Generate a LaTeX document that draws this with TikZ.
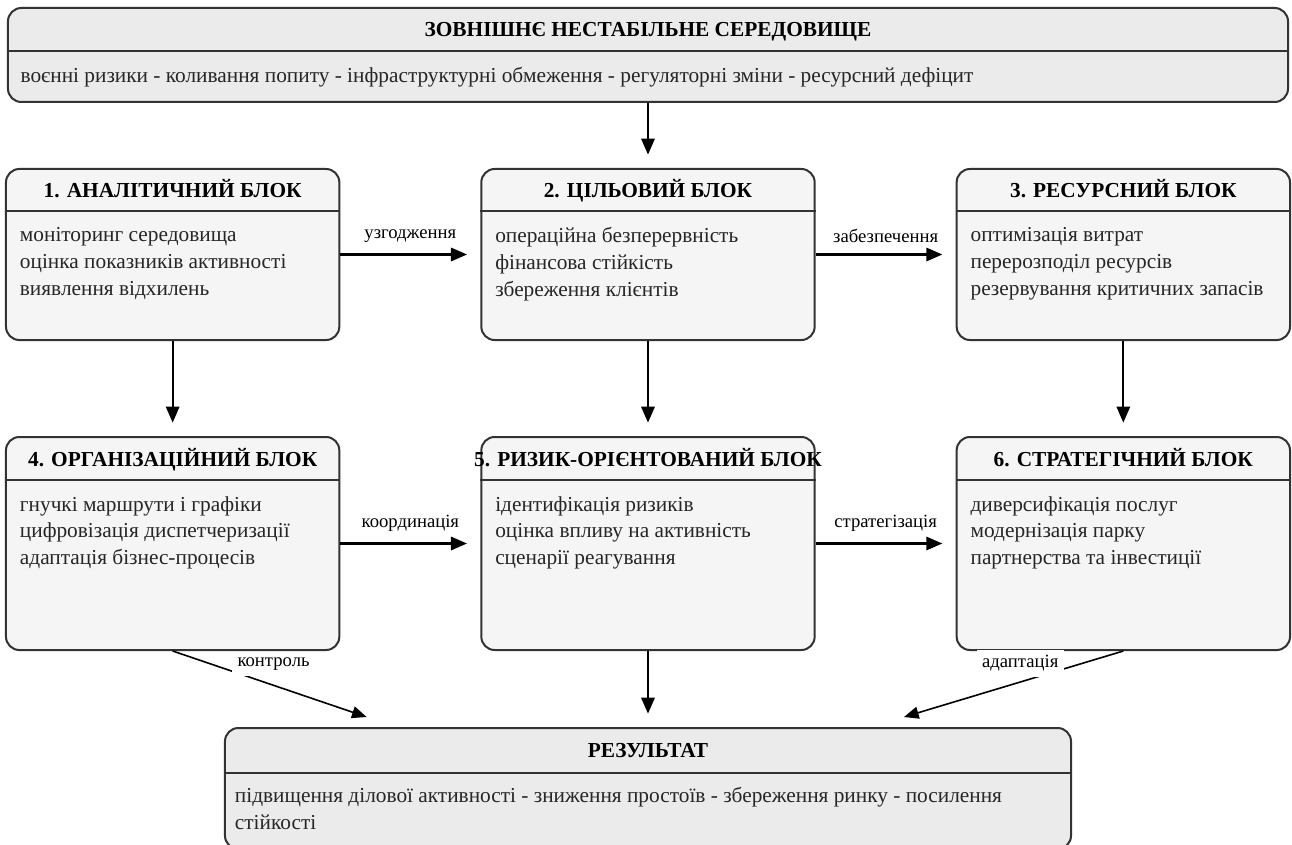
\documentclass[tikz,border=0pt]{standalone}
\usepackage{fontspec}
\setmainfont{Liberation Serif}
\usetikzlibrary{arrows.meta,positioning}
\definecolor{blockfill}{RGB}{245,245,245}
\definecolor{mainfill}{RGB}{235,235,235}
\definecolor{border}{RGB}{51,51,51}
\tikzstyle{block} = [rectangle, rounded corners=10pt, draw=border, line width=1.5pt, fill=blockfill, minimum width=250pt, minimum height=128.25pt, inner sep=0pt]
\tikzstyle{block2} = [block, minimum height=159.75pt]
\tikzstyle{wide} = [block, fill=mainfill, minimum width=960pt, minimum height=70.5pt]
\tikzstyle{btitle} = [font=\fontsize{16}{20}\selectfont\bfseries, anchor=base, inner sep=0pt]
\tikzstyle{txt} = [font=\fontsize{16}{20}\selectfont, text=black!85, align=left, anchor=north west, inner sep=0pt]
\tikzstyle{divider} = [draw=border, line width=1.5pt]
\tikzstyle{tedge} = [draw, line width=1.6pt, -{Triangle[length=12pt,width=10pt]}, shorten >=10pt]
\tikzstyle{dedge} = [draw, line width=1.2pt, -{Triangle[length=11pt,width=9pt]}]
\tikzstyle{lbl} = [font=\fontsize{14}{16}\selectfont, inner sep=2pt]

\begin{document}
\begin{tikzpicture}[auto]
\useasboundingbox (-486pt,-592.5pt) rectangle (483pt,41.25pt);

% environment ============================
\node[wide] (env) at (0,0) {};
\node[btitle] (env-t) at ([yshift=-22pt]env.north) {ЗОВНІШНЄ НЕСТАБІЛЬНЕ СЕРЕДОВИЩЕ};
\path[divider] ([yshift=-33pt]env.north west) -- ([yshift=-33pt]env.north east);
\node[txt] (env-b) at ([xshift=10pt, yshift=-45pt]env.north west) {воєнні ризики - коливання попиту - інфраструктурні обмеження - регуляторні зміни - ресурсний дефіцит};

% first row
\node[block, below=48.75pt of env] (goal) {};
\node[block, left=105pt of goal] (anal) {};
\node[block, right=105pt of goal] (res) {};

\node[btitle] (anal-t) at ([yshift=-22.5pt]anal.north) {1. АНАЛІТИЧНИЙ БЛОК};
\node[btitle] (goal-t) at ([yshift=-22.5pt]goal.north) {2. ЦІЛЬОВИЙ БЛОК};
\node[btitle] (res-t) at ([yshift=-22.5pt]res.north) {3. РЕСУРСНИЙ БЛОК};
\path[divider] ([yshift=-32.5pt]anal.north west) -- ([yshift=-32.5pt]anal.north east);
\path[divider] ([yshift=-32.5pt]goal.north west) -- ([yshift=-32.5pt]goal.north east);
\path[divider] ([yshift=-32.5pt]res.north west) -- ([yshift=-32.5pt]res.north east);
\node[txt] (anal-b) at ([xshift=11pt, yshift=-44.5pt]anal.north west) {моніторинг середовища\\оцінка показників активності\\виявлення відхилень};
\node[txt] (goal-b) at ([xshift=11pt, yshift=-44.5pt]goal.north west) {операційна безперервність\\фінансова стійкість\\збереження клієнтів};
\node[txt] (res-b) at ([xshift=11pt, yshift=-44.5pt]res.north west) {оптимізація витрат\\перерозподіл ресурсів\\резервування критичних запасів};

% second row
\node[block2, below=71.25pt of anal] (org) {};
\node[block2, below=71.25pt of goal] (risk) {};
\node[block2, below=71.25pt of res] (strat) {};

\node[btitle] (org-t) at ([yshift=-22.5pt]org.north) {4. ОРГАНІЗАЦІЙНИЙ БЛОК};
\node[btitle] (risk-t) at ([yshift=-22.5pt]risk.north) {5. РИЗИК-ОРІЄНТОВАНИЙ БЛОК};
\node[btitle] (strat-t) at ([yshift=-22.5pt]strat.north) {6. СТРАТЕГІЧНИЙ БЛОК};
\path[divider] ([yshift=-33pt]org.north west) -- ([yshift=-33pt]org.north east);
\path[divider] ([yshift=-33pt]risk.north west) -- ([yshift=-33pt]risk.north east);
\path[divider] ([yshift=-33pt]strat.north west) -- ([yshift=-33pt]strat.north east);
\node[txt] (org-b) at ([xshift=11pt, yshift=-45pt]org.north west) {гнучкі маршрути і графіки\\цифровізація диспетчеризації\\адаптація бізнес-процесів};
\node[txt] (risk-b) at ([xshift=11pt, yshift=-45pt]risk.north west) {ідентифікація ризиків\\оцінка впливу на активність\\сценарії реагування};
\node[txt] (strat-b) at ([xshift=11pt, yshift=-45pt]strat.north west) {диверсифікація послуг\\модернізація парку\\партнерства та інвестиції};

% result
\node[wide, minimum width=634.5pt, minimum height=90.75pt, below=57pt of risk] (result) {};
\node[btitle] (result-t) at ([yshift=-22.5pt]result.north) {РЕЗУЛЬТАТ};
\path[divider] ([yshift=-34.5pt]result.north west) -- ([yshift=-34.5pt]result.north east);
\node[txt] (result-b) at ([xshift=8pt, yshift=-45pt]result.north west) {підвищення ділової активності - зниження простоїв - збереження ринку - посилення\\стійкості};

\coordinate (in-l) at ([xshift=107pt, yshift=7.5pt]result.north west);
\coordinate (in-r) at ([xshift=-126pt, yshift=7.5pt]result.north east);

%edges
\path[tedge] (env) -- (goal);
\path[tedge] (anal) -- node[lbl, above=6pt] {узгодження} (goal);
\path[tedge] (goal) -- node[lbl, above=6pt] {забезпечення} (res);
\path[tedge] (org) -- node[lbl, above=6pt] {координація} (risk);
\path[tedge] (risk) -- node[lbl, above=6pt] {стратегізація} (strat);

\path[tedge] (anal) -- (org);
\path[tedge] (goal) -- (risk);
\path[tedge] (res) -- (strat);
\path[tedge] (risk) -- (result);

\path[dedge] (org.south) -- node[lbl, fill=white, inner sep=4pt, anchor=center, pos=0.52, yshift=16pt] {контроль} (in-l);
\path[dedge] (strat.south) -- node[lbl, fill=white, inner sep=4pt, anchor=center, pos=0.47, yshift=14pt] {адаптація} (in-r);

\end{tikzpicture}
\end{document}
